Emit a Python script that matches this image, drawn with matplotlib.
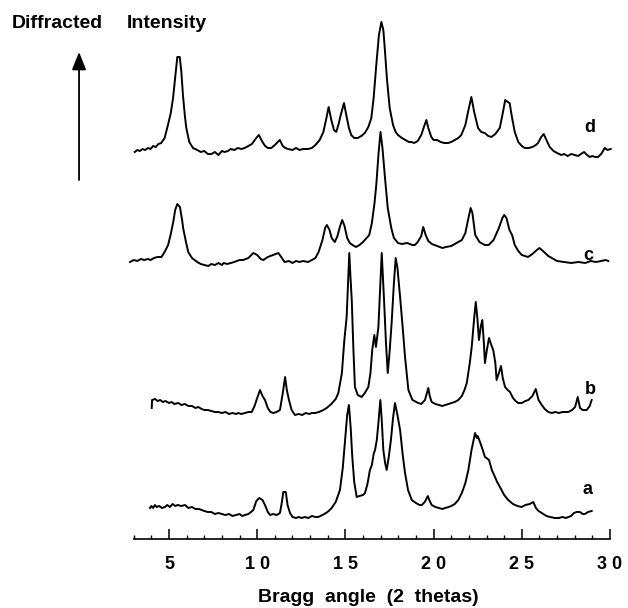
import matplotlib
matplotlib.use("Agg")
import matplotlib.pyplot as plt
import numpy as np
from matplotlib.ticker import FixedLocator

plt.rcParams['font.family'] = ['Liberation Sans', 'DejaVu Sans']

# ---- trace a ----
two_theta_a = [3.92, 4.0, 4.1, 4.2, 4.3, 4.45, 4.6, 4.77, 4.9, 5.05, 5.2, 5.35, 5.5, 5.7, 5.91,
               6.1, 6.3, 6.5, 6.7, 6.85, 7.0, 7.2, 7.4, 7.6, 7.8, 7.99, 8.2, 8.4, 8.6, 8.8, 9.0,
               9.15, 9.31, 9.5, 9.65, 9.78, 9.95, 10.12, 10.3, 10.44, 10.6, 10.73, 10.9, 11.1,
               11.29, 11.4, 11.48, 11.62, 11.72, 11.86, 12.0, 12.2, 12.35, 12.52, 12.7, 12.9,
               13.1, 13.3, 13.46, 13.7, 13.9, 14.05, 14.22, 14.45, 14.69, 14.85, 14.98, 15.1,
               15.2, 15.3, 15.39, 15.5, 15.64, 15.8, 16.0, 16.11, 16.25, 16.39, 16.5, 16.6,
               16.68, 16.78, 16.87, 16.98, 17.06, 17.15, 17.25, 17.34, 17.45, 17.58, 17.7,
               17.81, 17.95, 18.1, 18.25, 18.38, 18.55, 18.76, 19.0, 19.2, 19.33, 19.5, 19.67,
               19.78, 19.89, 20.1, 20.3, 20.5, 20.65, 20.85, 21.0, 21.2, 21.4, 21.6, 21.8,
               21.97, 22.15, 22.35, 22.45, 22.5, 22.63, 22.75, 22.91, 23.0, 23.14, 23.3, 23.48,
               23.6, 23.76, 24.0, 24.23, 24.5, 24.75, 24.99, 25.2, 25.45, 25.65, 25.8, 25.95,
               26.13, 26.4, 26.6, 26.88, 27.1, 27.3, 27.5, 27.64, 27.8, 27.95, 28.11, 28.3,
               28.45, 28.58, 28.75, 28.96]
intensity_a = [12, 14, 12, 15, 13, 14, 12, 13, 15, 13, 16, 14, 15, 14, 15,
               12, 13, 11, 11, 10, 9, 8, 8, 6, 7, 6, 5, 6, 4, 5, 6,
               4, 5, 6, 8, 10, 19, 22, 20, 15, 8, 5, 6, 5,
               7, 18, 28, 28, 15, 7, 3, 2, 3, 2, 3, 2,
               4, 3, 3, 5, 7, 9, 12, 18, 30, 52, 80, 105,
               115, 92, 63, 38, 23, 24, 25, 27, 36, 50, 55, 66,
               70, 80, 97, 120, 100, 70, 57, 50, 62, 80, 102,
               117, 105, 90, 65, 47, 30, 20, 17, 15, 15, 18, 24,
               19, 15, 13, 12, 11, 12, 13, 14, 16, 20, 27, 37,
               50, 70, 87, 82, 84, 78, 72, 63, 62, 60, 50, 43,
               38, 33, 25, 20, 16, 14, 13, 15, 16, 18, 12, 9,
               7, 4, 3, 2, 2, 3, 2, 3, 4, 7, 8, 8,
               6, 6, 8, 9]

# ---- trace b ----
two_theta_b = [4.02, 4.04, 4.21, 4.35, 4.5, 4.65, 4.8, 5.0, 5.15, 5.3, 5.53, 5.7, 5.9, 6.1, 6.3,
               6.5, 6.66, 6.85, 7.0, 7.2, 7.4, 7.6, 7.79, 8.0, 8.2, 8.4, 8.6, 8.8, 8.93, 9.1,
               9.3, 9.5, 9.69, 9.85, 10.0, 10.16, 10.3, 10.44, 10.6, 10.75, 10.91, 11.1, 11.29,
               11.45, 11.58, 11.68, 11.80, 11.95, 12.14, 12.35, 12.55, 12.75, 12.95, 13.09,
               13.3, 13.5, 13.75, 13.94, 14.2, 14.45, 14.6, 14.8, 14.94, 15.07, 15.15, 15.22,
               15.29, 15.36, 15.45, 15.54, 15.7, 15.92, 16.1, 16.3, 16.42, 16.52, 16.64, 16.73,
               16.87, 16.96, 17.06, 17.13, 17.19, 17.3, 17.40, 17.5, 17.62, 17.75, 17.85, 17.95,
               18.10, 18.25, 18.38, 18.57, 18.8, 19.13, 19.3, 19.51, 19.62, 19.70, 19.78, 19.89,
               20.1, 20.3, 20.5, 20.65, 20.85, 21.0, 21.2, 21.40, 21.6, 21.75, 21.88, 22.05,
               22.16, 22.3, 22.39, 22.48, 22.57, 22.68, 22.76, 22.85, 22.91, 23.02, 23.14,
               23.25, 23.38, 23.5, 23.57, 23.7, 23.82, 23.92, 24.05, 24.2, 24.33, 24.5, 24.65,
               24.80, 25.0, 25.2, 25.37, 25.6, 25.79, 25.95, 26.13, 26.3, 26.5, 26.70, 26.9,
               27.1, 27.3, 27.5, 27.64, 27.85, 28.02, 28.1, 28.17, 28.24, 28.30, 28.45, 28.68,
               28.85, 28.96]
intensity_b = [10, 18, 19, 17, 18, 16, 17, 15, 16, 14, 15, 13, 14, 12, 12,
               10, 11, 9, 8, 8, 7, 6, 6, 5, 6, 4, 5, 4, 5, 4,
               5, 6, 6, 12, 20, 28, 22, 18, 10, 6, 5, 6, 8,
               25, 41, 28, 18, 8, 3, 4, 3, 5, 4, 5,
               5, 6, 8, 10, 14, 19, 25, 45, 78, 101, 135, 165,
               140, 118, 70, 31, 23, 21, 25, 31, 45, 68, 83, 71,
               91, 125, 165, 140, 118, 75, 45, 65, 95, 135, 160, 150,
               121, 90, 61, 28, 18, 15, 14, 18, 25, 30, 22, 16,
               14, 13, 12, 13, 14, 15, 16, 18, 22, 28, 35, 55,
               71, 100, 116, 100, 78, 92, 98, 75, 55, 68, 80,
               74, 68, 55, 38, 45, 52, 40, 31, 28, 26, 20, 17,
               15, 15, 17, 18, 22, 29, 18, 13, 9, 6, 5, 6,
               5, 6, 6, 6, 8, 11, 16, 21, 15, 10, 8, 8,
               12, 18]

# ---- trace c ----
two_theta_c = [2.79, 3.0, 3.2, 3.4, 3.6, 3.8, 3.96, 4.15, 4.35, 4.57, 4.75, 4.95, 5.1, 5.24, 5.35,
               5.47, 5.62, 5.75, 5.8, 5.95, 6.09, 6.3, 6.6, 6.8, 7.0, 7.23, 7.4, 7.6, 7.8, 8.0,
               8.1, 8.3, 8.5, 8.7, 9.0, 9.2, 9.5, 9.78, 10.0, 10.2, 10.35, 10.6, 10.9, 11.2,
               11.4, 11.55, 11.8, 12.0, 12.2, 12.4, 12.6, 12.88, 13.1, 13.3, 13.48, 13.7, 13.85,
               13.95, 14.1, 14.22, 14.4, 14.55, 14.7, 14.82, 14.95, 15.1, 15.25, 15.4, 15.6,
               15.8, 16.0, 16.2, 16.35, 16.5, 16.65, 16.75, 16.88, 16.99, 17.1, 17.23, 17.4,
               17.6, 17.75, 17.98, 18.2, 18.5, 18.8, 18.94, 19.1, 19.3, 19.41, 19.55, 19.7,
               19.9, 20.2, 20.5, 20.7, 21.0, 21.3, 21.6, 21.8, 21.95, 22.1, 22.2, 22.36, 22.6,
               22.9, 23.12, 23.4, 23.7, 23.9, 24.0, 24.13, 24.3, 24.45, 24.6, 24.8, 25.0, 25.35,
               25.6, 25.85, 26.0, 26.2, 26.5, 26.8, 27.0, 27.4, 27.8, 28.2, 28.6, 28.9, 29.2,
               29.5, 29.75, 29.9]
intensity_c = [6, 8, 7, 9, 8, 9, 8, 10, 11, 11, 16, 23, 34, 46, 58,
               64, 61, 47, 40, 27, 16, 10, 6, 4, 3, 2, 4, 3, 5, 3,
               5, 4, 5, 6, 8, 8, 10, 15, 13, 9, 8, 11, 13, 15,
               10, 6, 7, 5, 7, 6, 7, 6, 8, 10, 16, 28, 40,
               43, 38, 30, 26, 32, 42, 48, 42, 30, 25, 23, 21,
               23, 26, 30, 33, 45, 65, 83, 115, 136, 120, 93, 60,
               40, 30, 25, 24, 25, 23, 23, 26, 32, 41, 33, 27,
               24, 22, 20, 21, 22, 25, 28, 35, 48, 60, 55, 33, 26,
               23, 23, 28, 40, 50, 53, 50, 38, 33, 23, 17, 13, 11,
               14, 18, 20, 17, 12, 9, 7, 6, 5, 6, 5, 7, 6,
               7, 8, 7]

# ---- trace d ----
two_theta_d = [3.06, 3.2, 3.35, 3.5, 3.65, 3.81, 3.95, 4.1, 4.25, 4.4, 4.56, 4.75, 4.94, 5.1, 5.23,
               5.35, 5.47, 5.61, 5.7, 5.79, 5.9, 5.98, 6.15, 6.36, 6.6, 6.8, 7.0, 7.2, 7.4, 7.6,
               7.8, 8.0, 8.15, 8.34, 8.5, 8.7, 8.9, 9.1, 9.29, 9.5, 9.7, 9.9, 10.09, 10.3, 10.45,
               10.61, 10.8, 11.0, 11.28, 11.45, 11.6, 11.75, 12.0, 12.2, 12.4, 12.6, 12.88, 13.1,
               13.3, 13.54, 13.75, 13.9, 14.05, 14.2, 14.35, 14.48, 14.6, 14.75, 14.92, 15.05,
               15.2, 15.33, 15.5, 15.7, 15.9, 16.1, 16.3, 16.47, 16.6, 16.75, 16.9, 17.04, 17.15,
               17.23, 17.35, 17.51, 17.7, 17.85, 17.98, 18.2, 18.4, 18.6, 18.74, 18.9, 19.1, 19.3,
               19.45, 19.59, 19.7, 19.87, 20.0, 20.2, 20.4, 20.6, 20.82, 21.0, 21.2, 21.4, 21.57,
               21.8, 21.95, 22.14, 22.3, 22.52, 22.7, 22.9, 23.1, 23.27, 23.5, 23.75, 23.9, 24.06,
               24.2, 24.31, 24.45, 24.6, 24.8, 25.0, 25.16, 25.4, 25.6, 25.8, 25.92, 26.1, 26.24,
               26.4, 26.58, 26.8, 27.0, 27.24, 27.4, 27.6, 27.8, 28.0, 28.2, 28.35, 28.53, 28.7,
               28.85, 29.0, 29.15, 29.32, 29.5, 29.7, 29.85, 30.04]
intensity_d = [8, 10, 9, 11, 10, 12, 11, 14, 13, 16, 17, 22, 35, 47, 62,
               82, 103, 103, 88, 65, 44, 32, 18, 12, 10, 8, 9, 6, 6, 8,
               5, 9, 8, 9, 11, 10, 12, 11, 12, 14, 16, 21, 25, 18, 14,
               12, 12, 15, 20, 14, 12, 11, 10, 12, 10, 11, 11, 12,
               15, 20, 28, 40, 53, 40, 30, 28, 35, 46, 57, 45,
               32, 25, 22, 22, 24, 27, 33, 42, 62, 95, 125, 138, 130,
               112, 82, 52, 35, 28, 25, 22, 20, 18, 18, 17, 19, 25,
               33, 40, 32, 23, 20, 20, 18, 17, 17, 18, 20, 22, 25,
               35, 48, 63, 48, 32, 28, 27, 24, 23, 26, 32, 45, 60,
               58, 57, 42, 28, 18, 14, 12, 12, 13, 15, 17, 23, 26,
               20, 13, 9, 7, 5, 6, 4, 6, 5, 4, 6, 8, 5,
               3, 4, 3, 3, 6, 12, 10, 11]

trace_names = ['a', 'b', 'c', 'd']
trace_offsets = [19, 121, 271, 379]

major_ticks = [5, 10, 15, 20, 25, 30]
major_labels = ['5', '1 0', '1 5', '2 0', '2 5', '3 0']
minor_ticks = [3, 4, 6, 7, 8, 9, 11, 12, 13, 14, 16, 17, 18, 19, 21, 22, 23, 24, 26, 27, 28, 29]

fig = plt.figure(figsize=(6.28, 6.08), dpi=100)
ax = fig.add_axes([0, 0, 1, 1])
ax.set_xlim(-4.581, 31.020)
ax.set_ylim(-69, 539)

traces = [(two_theta_a, intensity_a), (two_theta_b, intensity_b),
          (two_theta_c, intensity_c), (two_theta_d, intensity_d)]
for (tx, ty), off in zip(traces, trace_offsets):
    ax.plot(tx, np.array(ty) + off, color='black', lw=1.4, solid_joinstyle='round')

label_pos = [(28.75, 49), (28.87, 149), (28.75, 284), (28.85, 412)]
for name, (lx, ly) in zip(trace_names, label_pos):
    ax.text(lx, ly, name, ha='center', va='center', fontsize=13, fontweight='bold')

for s in ['top', 'left', 'right']:
    ax.spines[s].set_visible(False)
ax.spines['bottom'].set_position(('data', 0))
ax.spines['bottom'].set_bounds(3, 30)
ax.spines['bottom'].set_linewidth(1.2)
ax.xaxis.set_major_locator(FixedLocator(major_ticks))
ax.xaxis.set_minor_locator(FixedLocator(minor_ticks))
ax.set_xticklabels(major_labels, fontsize=13, fontweight='bold')
ax.tick_params(axis='x', which='major', direction='in', length=7.2, width=1.1, pad=12)
ax.tick_params(axis='x', which='minor', direction='in', length=3.2, width=1.0)
ax.set_yticks([])

ax.text(16.28, -58, 'Bragg  angle  (2  thetas)', ha='center', va='center',
        fontsize=14, fontweight='bold')
ax.text(-3.90, 516, 'Diffracted', ha='left', va='center', fontsize=14, fontweight='bold')
ax.text(2.62, 516, 'Intensity', ha='left', va='center', fontsize=14, fontweight='bold')

ax.annotate('', xy=(-0.10, 487), xytext=(-0.10, 359),
            arrowprops=dict(arrowstyle='-|>,head_length=0.4,head_width=0.16',
                            color='black', lw=1.3, mutation_scale=27, shrinkA=0, shrinkB=0))

fig.savefig('out.png', dpi=100)
